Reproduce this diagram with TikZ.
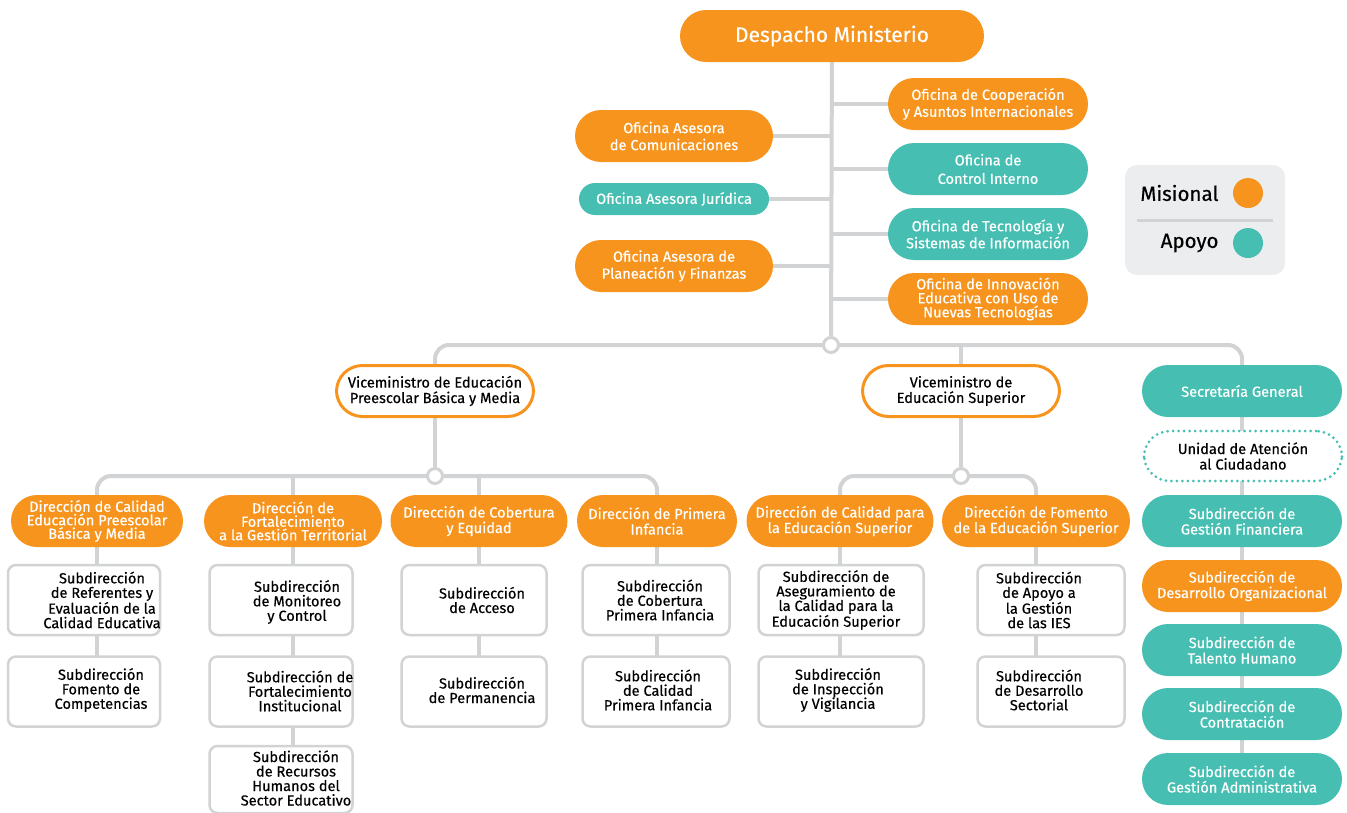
\documentclass[tikz,border=0pt]{standalone}
\usepackage{fontspec}
\setmainfont{Fira Sans}[FakeBold=0.4]
\usetikzlibrary{positioning,backgrounds}

\definecolor{orgc}{HTML}{F7941D}
\definecolor{teac}{HTML}{46BFB2}
\definecolor{linec}{HTML}{D1D3D4}
\definecolor{lgc}{HTML}{ECEDEF}
\newcommand{\lbl}{\fontsize{14.6}{15.5}\selectfont}
\newcommand{\sublbl}{\fontsize{14.6}{14.5}\selectfont}

\begin{document}
\begin{tikzpicture}[
    x=1pt, y=-1pt,
    pill/.style={rounded corners=26pt, minimum height=52pt, inner sep=0pt, align=center, text=white, font=\lbl},
    orgpill/.style={pill, fill=orgc},
    teapill/.style={pill, fill=teac},
    vicebox/.style={pill, draw=orgc, line width=3pt, fill=white, text=black, minimum height=51pt, minimum width=197pt},
    subbox/.style={draw=linec, line width=2.5pt, fill=white, rounded corners=8pt, minimum height=70pt, inner sep=0pt},
    subtxt/.style={font=\sublbl, align=center, text=black},
    conn/.style={draw=linec, line width=4pt},
    junct/.style={circle, draw=linec, line width=3pt, fill=white, minimum size=15pt, inner sep=0pt},
    lgdot/.style={circle, minimum size=30pt, inner sep=0pt}
]
\useasboundingbox (0,0) rectangle (1347,812);

% Despacho
\node[orgpill, minimum width=304pt, font=\fontsize{21}{24}\selectfont] (dm) at (832,36) {Despacho Ministerio};

% Asesoras (left)
\node[orgpill, minimum width=198pt, font=\fontsize{14.6}{17}\selectfont] (oac) at (674,136) {Oficina Asesora\\de Comunicaciones};
\node[teapill, minimum width=190pt, minimum height=32pt, rounded corners=16pt] (oaj) at (674,199) {Oficina Asesora Jurídica};
\node[orgpill, minimum width=198pt, font=\fontsize{14.6}{17}\selectfont] (oap) at (674,266) {Oficina Asesora de\\Planeación y Finanzas};

% Oficinas (right)
\node[orgpill, minimum width=200pt, font=\fontsize{14.6}{17}\selectfont] (oci) at (988,104) {Oficina de Cooperación\\y Asuntos Internacionales};
\node[teapill, minimum width=200pt, font=\fontsize{14.6}{18.5}\selectfont] (oct) at (988,169) {Oficina de\\Control Interno};
\node[teapill, minimum width=200pt, font=\fontsize{14.6}{17}\selectfont] (otec) at (988,234) {Oficina de Tecnología y\\Sistemas de Información};
\node[orgpill, minimum width=200pt, font=\fontsize{14.6}{14}\selectfont] (oin) at (988,299) {Oficina de Innovación\\Educativa con Uso de\\Nuevas Tecnologías};

% Legend
\node[fill=lgc, rounded corners=12pt, minimum width=160pt, minimum height=110pt] (lg) at (1205,220) {};
\node[anchor=east, font=\fontsize{20.5}{24}\selectfont] (lmis) at (1222,193) {Misional};
\node[lgdot, fill=orgc] (lmisd) at (1248,193) {};
\node[anchor=east, font=\fontsize{20.5}{24}\selectfont] (lapo) at (1222,243) {Apoyo};
\node[lgdot, fill=teac] (lapod) at (1248,243) {};
\draw[draw=linec, line width=3pt] ([xshift=12pt]lg.west) -- ([xshift=-12pt]lg.east);

% Viceministerios
\node[vicebox] (vpre) at (435,391) {Viceministro de Educación\\Preescolar Básica y Media};
\node[vicebox] (vsup) at (961,391) {Viceministro de\\Educación Superior};

% Secretaria General column
\node[teapill, minimum width=200pt] (sg) at (1242,391) {Secretaría General};
\node[pill, draw=teac, line width=3pt, dash pattern=on 0pt off 5.5pt, line cap=round, fill=white, text=black, minimum width=198pt, minimum height=50pt] (uac) at (1243,456) {Unidad de Atención\\al Ciudadano};
\node[teapill, minimum width=200pt] (sgf) at (1242,521) {Subdirección de\\Gestión Financiera};
\node[orgpill, minimum width=200pt] (sdo) at (1242,586) {Subdirección de\\Desarrollo Organizacional};
\node[teapill, minimum width=200pt] (sth) at (1242,650) {Subdirección de\\Talento Humano};
\node[teapill, minimum width=200pt] (sco) at (1242,714) {Subdirección de\\Contratación};
\node[teapill, minimum width=200pt] (sga) at (1242,779) {Subdirección de\\Gestión Administrativa};

% Junctions
\node[junct] (c1) at (831,345) {};
\node[junct] (c2) at (435,476) {};
\node[junct] (c3) at (961,476) {};

% Direcciones
\node[orgpill, minimum width=172pt, font=\fontsize{14.6}{13.5}\selectfont] (d1) at (97,521) {Dirección de Calidad\\Educación Preescolar\\Básica y Media};
\node[orgpill, minimum width=178pt, font=\fontsize{14.6}{13.5}\selectfont] (d2) at (293,521) {Dirección de\\Fortalecimiento\\a la Gestión Territorial};
\node[orgpill, minimum width=177pt] (d3) at (479,521) {Dirección de Cobertura\\y Equidad};
\node[orgpill, minimum width=160pt] (d4) at (657,521) {Dirección de Primera\\Infancia};
\node[orgpill, minimum width=187pt] (d5) at (840,521) {Dirección de Calidad para\\la Educación Superior};
\node[orgpill, minimum width=188pt] (d6) at (1036,521) {Dirección de Fomento\\de la Educación Superior};

% Subdirecciones
\node[subbox, minimum width=152pt] (s11) at (84,600) {};
\node[subbox, minimum width=152pt, below=19pt of s11] (s12) {};
\node[subbox, minimum width=143pt] (s21) at (281,600) {};
\node[subbox, minimum width=143pt, below=19pt of s21] (s22) {};
\node[subbox, minimum width=143pt, minimum height=67pt, below=17pt of s22] (s23) {};
\node[subbox, minimum width=145pt] (s31) at (474,600) {};
\node[subbox, minimum width=145pt, below=19pt of s31] (s32) {};
\node[subbox, minimum width=147pt] (s41) at (656,600) {};
\node[subbox, minimum width=147pt, below=19pt of s41] (s42) {};
\node[subbox, minimum width=165pt] (s51) at (841,600) {};
\node[subbox, minimum width=165pt, below=19pt of s51] (s52) {};
\node[subbox, minimum width=147pt] (s61) at (1051,600) {};
\node[subbox, minimum width=147pt, below=19pt of s61] (s62) {};

\node[subtxt] (s11t) at (102,600) {Subdirección\\de Referentes y\\Evaluación de la\\Calidad Educativa};
\node[subtxt] (s12t) at (101,690) {Subdirección\\Fomento de\\Competencias};
\node[subtxt] (s21t) at (297,602) {Subdirección\\de Monitoreo\\y Control};
\node[subtxt] (s22t) at (300,691) {Subdirección de\\Fortalecimiento\\Institucional};
\node[subtxt] (s23t) at (296,778) {Subdirección\\de Recursos\\Humanos del\\Sector Educativo};
\node[subtxt] (s31t) at (482,600) {Subdirección\\de Acceso};
\node[subtxt] (s32t) at (482,690) {Subdirección\\de Permanencia};
\node[subtxt] (s41t) at (660,600) {Subdirección\\de Cobertura\\Primera Infancia};
\node[subtxt] (s42t) at (658,690) {Subdirección\\de Calidad\\Primera Infancia};
\node[subtxt] (s51t) at (836,600) {Subdirección de\\Aseguramiento de\\la Calidad para la\\Educación Superior};
\node[subtxt] (s52t) at (838,690) {Subdirección\\de Inspección\\y Vigilancia};
\node[subtxt] (s61t) at (1039,600) {Subdirección\\de Apoyo a\\la Gestión\\de las IES};
\node[subtxt] (s62t) at (1039,690) {Subdirección\\de Desarrollo\\Sectorial};

% Connectors
\begin{scope}[on background layer]
\draw[conn] (dm) -- (c1);
\foreach \o in {oac,oaj,oap} \draw[conn] (\o.east) -- (\o.east -| c1);
\foreach \o in {oci,oct,otec,oin} \draw[conn] (\o.west) -- (\o.west -| c1);
\draw[conn, rounded corners=14pt] (vpre.center) |- (c1.center) -| (sg.center);
\draw[conn] (vsup |- c1) -- (vsup);
\draw[conn] (vpre) -- (c2);
\draw[conn] (vsup) -- (c3);
\draw[conn, rounded corners=14pt] (d1.center) |- (c2.center) -| (d4.center);
\draw[conn] (d2 |- c2) -- (d2);
\draw[conn] (d3 |- c2) -- (d3);
\draw[conn, rounded corners=14pt] (d5.center) |- (c3.center) -| (d6.center);
\draw[conn] (d1) -- (d1 |- s12);
\draw[conn] (d2) -- (d2 |- s23);
\draw[conn] (d3) -- (d3 |- s32);
\draw[conn] (d4) -- (d4 |- s42);
\draw[conn] (d5) -- (d5 |- s52);
\draw[conn] (d6) -- (d6 |- s62);
\draw[conn] (sg) -- (sga);
\end{scope}
\end{tikzpicture}
\end{document}
